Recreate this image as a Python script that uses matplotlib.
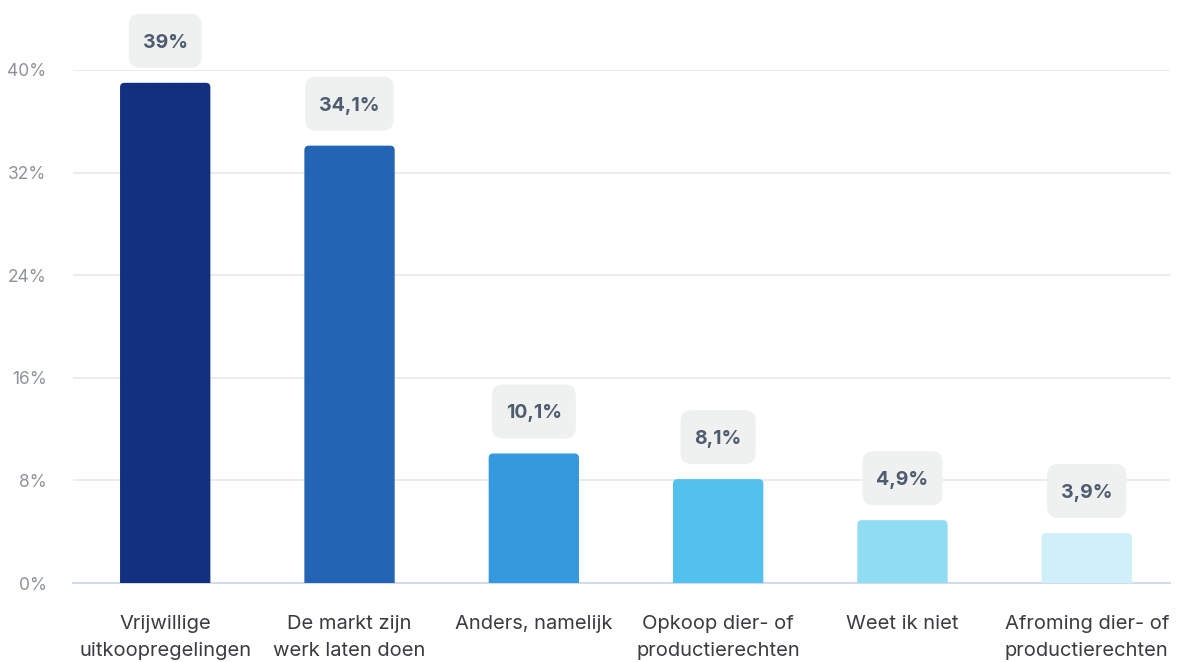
import matplotlib
matplotlib.use("Agg")
import matplotlib.pyplot as plt
from matplotlib.patches import FancyBboxPatch
from matplotlib.transforms import IdentityTransform

categories = ["Vrijwillige\nuitkoopregelingen", "De markt zijn\nwerk laten doen",
              "Anders, namelijk", "Opkoop dier- of\nproductierechten",
              "Weet ik niet", "Afroming dier- of\nproductierechten"]
values = [39.0, 34.1, 10.1, 8.1, 4.9, 3.9]
value_labels = ["39%", "34,1%", "10,1%", "8,1%", "4,9%", "3,9%"]
colors = ["#132f7f", "#2364b5", "#3499dd", "#52c1ee", "#8fdcf3", "#cff0f8"]
yticks = [0, 8, 16, 24, 32, 40]
ytick_labels = ["0%", "8%", "16%", "24%", "32%", "40%"]

plt.rcParams['font.family'] = ['Inter', 'DejaVu Sans']

DPI = 100
fig = plt.figure(figsize=(11.78, 6.62), dpi=DPI)
ax = fig.add_axes([0.062, 0.1193, 0.931, 0.7750])

x = list(range(len(categories)))
ax.set_xlim(-0.5, 5.45)
ax.set_ylim(0, 40)

bars = ax.bar(x, values, width=0.49, color=colors)
fig.canvas.draw()
bb = ax.get_window_extent()
px_per_x = bb.width / (5.45 + 0.5)
px_per_y = bb.height / 40.0
aspect = px_per_x / px_per_y
for b, c in zip(bars, colors):
    b.set_visible(False)
    r = 4.5 / px_per_x
    p = FancyBboxPatch((b.get_x(), -2), b.get_width(), b.get_height() + 2,
                       boxstyle=f"round,pad=0,rounding_size={r}",
                       mutation_aspect=aspect, facecolor=c, edgecolor='none',
                       zorder=3, clip_on=True)
    ax.add_patch(p)

pt = 72.0 / DPI  # points per pixel
texts = []
for xi, v, lab in zip(x, values, value_labels):
    t = ax.annotate(lab, (xi, v), xytext=(0, 35 * pt), textcoords='offset points',
                    ha='center', va='baseline', fontsize=14, fontweight='bold',
                    color='#4f5b6e', annotation_clip=False, zorder=6)
    texts.append(t)

ax.set_yticks(yticks)
ax.set_yticklabels(ytick_labels, fontsize=12.5, color='#8e939a')
ax.set_xticks(x)
ax.set_xticklabels(categories, fontsize=14.5, color='#3a3c40', linespacing=1.68)
ax.tick_params(axis='both', length=0)
ax.tick_params(axis='x', pad=23)
ax.tick_params(axis='y', pad=19)

ax.grid(axis='y', color='#e5e7ea', linewidth=1.2, zorder=0)
ax.set_axisbelow(True)
for s in ['top', 'right', 'left']:
    ax.spines[s].set_visible(False)
ax.spines['bottom'].set_color('#d3daee')
ax.spines['bottom'].set_linewidth(1.5)

fig.canvas.draw()
renderer = fig.canvas.get_renderer()
for t, xi, v in zip(texts, x, values):
    ext = t.get_window_extent(renderer)
    top = ax.transData.transform((xi, v))
    w = ext.width + 28
    h = 54
    cx = top[0]
    cy = top[1] + 42
    box = FancyBboxPatch((cx - w / 2, cy - h / 2), w, h,
                         boxstyle="round,pad=0,rounding_size=11",
                         transform=IdentityTransform(), facecolor='#eff1f1',
                         edgecolor='none', zorder=5, clip_on=False)
    ax.add_patch(box)

fig.savefig('out.png', dpi=DPI)
